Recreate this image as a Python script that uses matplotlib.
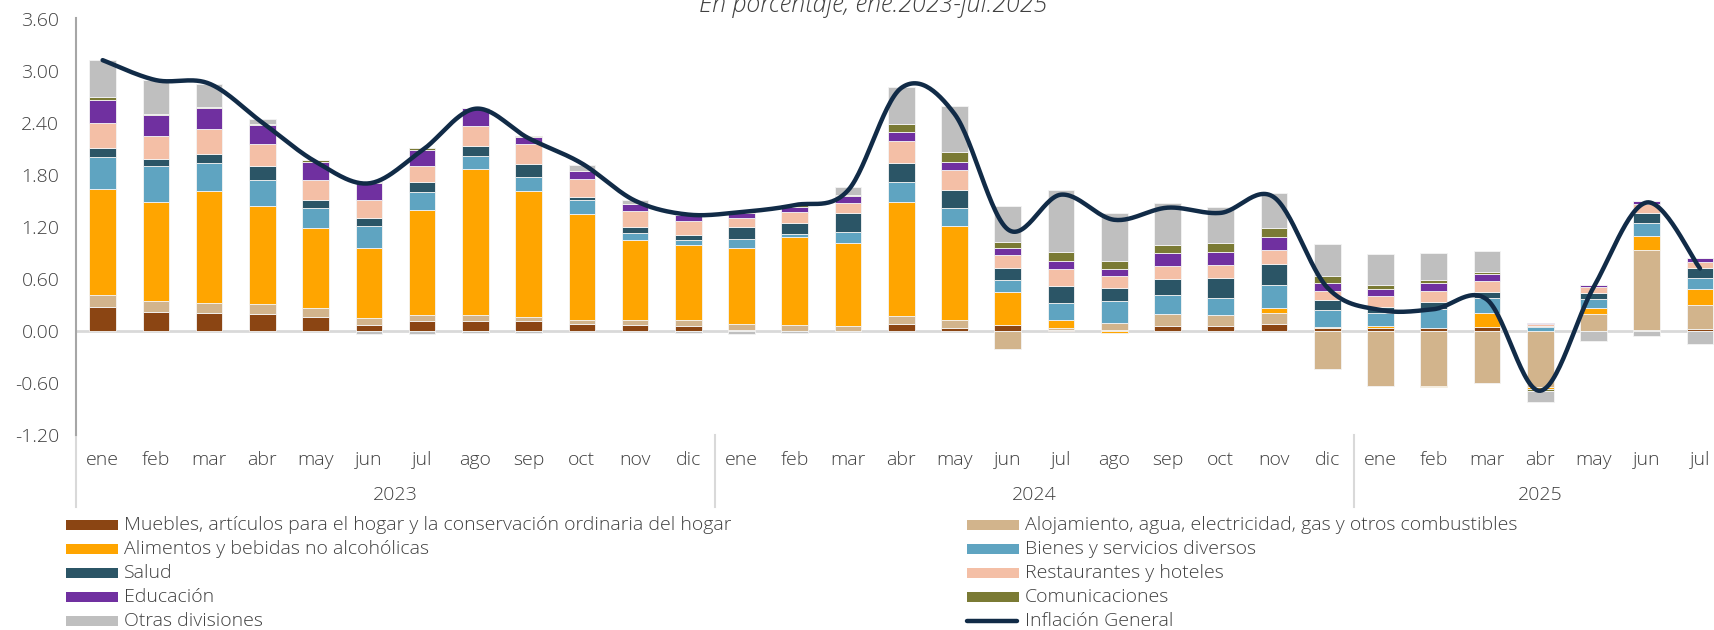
import numpy as np
import matplotlib
matplotlib.use("Agg")
import matplotlib.pyplot as plt
from matplotlib.patches import Rectangle
from matplotlib.lines import Line2D
from matplotlib.transforms import blended_transform_factory

plt.rcParams['font.family'] = ['Open Sans', 'DejaVu Sans']
plt.rcParams['font.weight'] = 'light'

# ---------------- data ----------------
months = ["ene", "feb", "mar", "abr", "may", "jun", "jul", "ago", "sep", "oct", "nov", "dic",
          "ene", "feb", "mar", "abr", "may", "jun", "jul", "ago", "sep", "oct", "nov", "dic",
          "ene", "feb", "mar", "abr", "may", "jun", "jul"]
years = ["2023", "2024", "2025"]
year_counts = [12, 12, 7]

muebles = [0.27, 0.22, 0.21, 0.20, 0.165, 0.065, 0.11, 0.11, 0.11, 0.075, 0.073, 0.06,
           0.01, 0.0, 0.0, 0.077, 0.035, 0.065, 0.015, 0.01, 0.058, 0.058, 0.08, 0.035,
           0.03, 0.03, 0.05, 0.0, 0.0, 0.015, 0.023]
alojamiento = [0.14, 0.12, 0.11, 0.115, 0.10, 0.085, 0.07, 0.075, 0.055, 0.05, 0.054, 0.06,
               0.065, 0.07, 0.06, 0.092, 0.088, -0.21, 0.02, 0.085, 0.135, 0.127, 0.123, -0.44,
               -0.63, -0.63, -0.60, -0.643, 0.19, 0.917, 0.27]
alimentos = [1.23, 1.15, 1.295, 1.125, 0.915, 0.81, 1.21, 1.685, 1.445, 1.225, 0.925, 0.87,
             0.88, 1.016, 0.957, 1.317, 1.086, 0.385, 0.092, -0.03, 0.0, 0.0, 0.062, 0.015,
             0.023, -0.015, 0.154, -0.023, 0.073, 0.158, 0.19]
bienes = [0.36, 0.41, 0.325, 0.30, 0.24, 0.25, 0.21, 0.14, 0.16, 0.16, 0.077, 0.06,
          0.10, 0.035, 0.127, 0.235, 0.21, 0.14, 0.19, 0.25, 0.22, 0.196, 0.266, 0.196,
          0.154, 0.22, 0.177, 0.046, 0.108, 0.15, 0.123]
salud = [0.11, 0.08, 0.10, 0.16, 0.085, 0.09, 0.115, 0.125, 0.15, 0.035, 0.073, 0.06,
         0.14, 0.12, 0.22, 0.21, 0.20, 0.14, 0.20, 0.15, 0.19, 0.23, 0.243, 0.115,
         0.07, 0.085, 0.07, 0.012, 0.06, 0.123, 0.115]
restaurantes = [0.28, 0.27, 0.29, 0.255, 0.235, 0.21, 0.185, 0.23, 0.23, 0.205, 0.18, 0.16,
                0.105, 0.13, 0.115, 0.26, 0.23, 0.15, 0.20, 0.14, 0.15, 0.15, 0.16, 0.104,
                0.13, 0.127, 0.12, 0.02, 0.07, 0.10, 0.077]
educacion = [0.27, 0.235, 0.24, 0.215, 0.205, 0.19, 0.19, 0.20, 0.09, 0.09, 0.077, 0.06,
             0.06, 0.06, 0.07, 0.10, 0.096, 0.073, 0.09, 0.08, 0.146, 0.143, 0.146, 0.089,
             0.077, 0.085, 0.08, 0.015, 0.03, 0.035, 0.038]
comunicaciones = [0.04, 0.02, 0.01, 0.01, 0.02, 0.01, 0.015, 0.005, 0.005, 0.0, 0.0, 0.0,
                  0.025, 0.025, 0.02, 0.096, 0.115, 0.077, 0.10, 0.09, 0.09, 0.108, 0.11, 0.077,
                  0.042, 0.038, 0.03, -0.027, 0.0, 0.0, 0.0]
otras = [0.42, 0.39, 0.26, 0.06, 0.0, -0.04, -0.04, -0.02, -0.03, 0.075, 0.054, -0.03,
         -0.04, -0.02, 0.085, 0.42, 0.53, 0.41, 0.72, 0.55, 0.485, 0.41, 0.40, 0.366,
         0.36, 0.31, 0.235, -0.127, -0.12, -0.055, -0.15]
inflacion = [3.12, 2.89, 2.85, 2.40, 1.95, 1.70, 2.08, 2.56, 2.22, 1.93, 1.50, 1.34,
             1.37, 1.45, 1.62, 2.80, 2.50, 1.17, 1.57, 1.28, 1.42, 1.36, 1.54, 0.50,
             0.24, 0.25, 0.36, -0.69, 0.50, 1.48, 0.72]

series_names = ["Muebles, artículos para el hogar y la conservación ordinaria del hogar",
                "Alojamiento, agua, electricidad, gas y otros combustibles",
                "Alimentos y bebidas no alcohólicas",
                "Bienes y servicios diversos",
                "Salud",
                "Restaurantes y hoteles",
                "Educación",
                "Comunicaciones",
                "Otras divisiones"]
series_values = [muebles, alojamiento, alimentos, bienes, salud, restaurantes,
                 educacion, comunicaciones, otras]
series_colors = ["#8B4513", "#D2B48C", "#FFA500", "#5FA4C1", "#2B5566",
                 "#F4BFA6", "#7030A0", "#7A7A34", "#BFBFBF"]
line_name = "Inflación General"
line_color = "#112B47"
text_color = "#404040"
FS = 14

# ---------------- figure ----------------
W, H = 1715, 630
fig = plt.figure(figsize=(W / 100, H / 100), dpi=100)
ax_left, ax_right, ax_top, ax_bottom = 76, 1726.6, 18.5, 435
ax = fig.add_axes([ax_left / W, 1 - ax_bottom / H, (ax_right - ax_left) / W, (ax_bottom - ax_top) / H])

n = len(months)
x = np.arange(n)
pos_bottom = np.zeros(n)
neg_bottom = np.zeros(n)
for vals, col in zip(series_values, series_colors):
    v = np.array(vals)
    bottoms = np.where(v >= 0, pos_bottom, neg_bottom)
    ax.bar(x, v, width=0.5, bottom=bottoms, color=col, edgecolor="#F4F4F4",
           linewidth=0.6, zorder=2)
    pos_bottom = pos_bottom + np.where(v >= 0, v, 0)
    neg_bottom = neg_bottom + np.where(v < 0, v, 0)


def smooth(xs, ys, steps=30):
    P = np.column_stack([xs, ys]).astype(float)
    P = np.vstack([P[0], P, P[-1]])
    out = []
    t = np.linspace(0, 1, steps, endpoint=False)[:, None]
    for i in range(1, len(P) - 2):
        p0, p1, p2, p3 = P[i - 1], P[i], P[i + 1], P[i + 2]
        c1 = p1 + (p2 - p0) / 6
        c2 = p2 - (p3 - p1) / 6
        out.append((1 - t) ** 3 * p1 + 3 * (1 - t) ** 2 * t * c1 + 3 * (1 - t) * t ** 2 * c2 + t ** 3 * p2)
    out.append(P[-2][None, :])
    return np.vstack(out)


curve = smooth(x, inflacion)
ax.plot(curve[:, 0], curve[:, 1], color=line_color, lw=3.2, zorder=4, solid_capstyle="round")

ax.axhline(0, color="#D9D9D9", lw=2, zorder=1)

ax.set_xlim(-0.5, n - 0.5)
ax.set_ylim(-1.2, 3.6)
yt = np.arange(-1.2, 3.61, 0.6)
ax.set_yticks(yt)
ax.set_yticklabels([f"{v:.2f}" for v in yt])
ax.tick_params(axis="y", length=0, pad=12, labelsize=FS, labelcolor=text_color)
ax.set_xticks([])
for s in ["top", "right", "bottom"]:
    ax.spines[s].set_visible(False)
ax.spines["left"].set_color("#A6A6A6")
ax.spines["left"].set_linewidth(1.5)

# month and year labels
trans = blended_transform_factory(ax.transData, fig.transFigure)
for i, m in enumerate(months):
    ax.text(i, 1 - 460 / H, m, transform=trans, ha="center", va="center",
            fontsize=FS, color=text_color, clip_on=False)
start = 0
for yr, c in zip(years, year_counts):
    ax.text(start + (c - 1) / 2, 1 - 495 / H, yr, transform=trans, ha="center", va="center",
            fontsize=FS, color=text_color, clip_on=False)
    ax.add_line(Line2D([start - 0.5, start - 0.5], [1 - 435 / H, 1 - 507 / H], transform=trans,
                       color="#D9D9D9", lw=1.5, clip_on=False))
    start += c

# title (partially cut at the top, as in reference)
fig.text(873 / W, 1 - 12 / H, "En porcentaje, ene.2023-jul.2025", ha="center", va="baseline",
         style="italic", fontsize=18, color=text_color)

# legend (two columns, row-wise)
row_y = [525, 549, 573, 597, 621]
col_x = [66, 967]
entries = list(zip(series_names, series_colors)) + [(line_name, None)]
for k, (name, col) in enumerate(entries):
    r, c = k // 2, k % 2
    yy = 1 - row_y[r] / H
    x0 = col_x[c]
    if col is not None:
        fig.patches.append(Rectangle((x0 / W, yy - 5 / H), 52 / W, 10 / H, transform=fig.transFigure,
                                     facecolor=col, edgecolor="none"))
    else:
        fig.lines.append(Line2D([x0 / W, (x0 + 50) / W], [yy, yy], transform=fig.transFigure,
                                color=line_color, lw=3.2, solid_capstyle="round"))
    fig.text((x0 + 58) / W, yy, name, ha="left", va="center", fontsize=FS, color=text_color)

fig.savefig("out.png", dpi=100)
